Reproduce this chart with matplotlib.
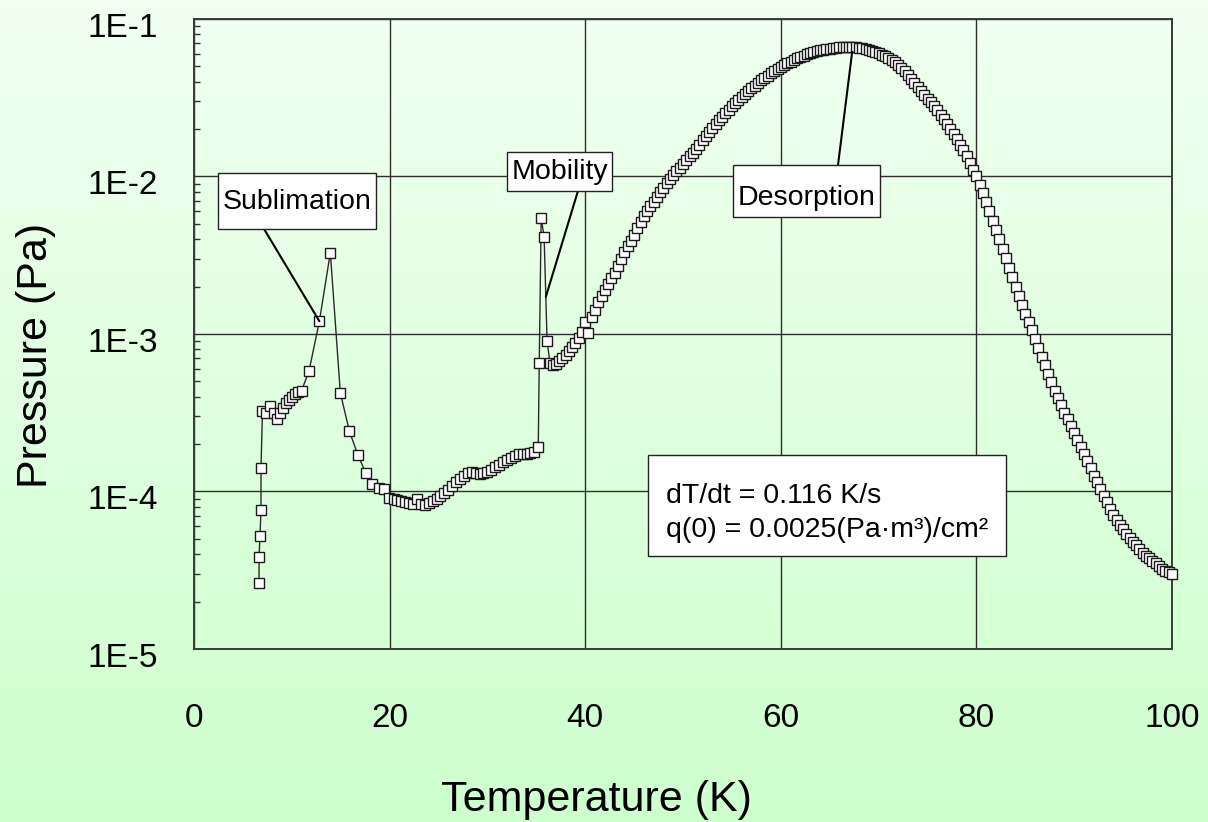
import numpy as np
import matplotlib
matplotlib.use("Agg")
import matplotlib.pyplot as plt
from matplotlib.patches import Rectangle
from matplotlib.transforms import ScaledTranslation
from matplotlib.ticker import FixedLocator, LogLocator, NullFormatter, FuncFormatter

plt.rcParams['font.family'] = ['Liberation Sans', 'DejaVu Sans']

# Thermal desorption spectrum: temperature in K, pressure as log10(Pa)
temp_onset = [6.65, 6.65, 6.75, 6.85, 6.85, 7.0, 7.4, 7.8, 8.2, 8.5, 8.8, 9.1,
              9.4, 9.7, 10.0, 10.3, 10.6, 11.0]
logp_onset = [-4.581, -4.416, -4.28, -4.117, -3.85, -3.49, -3.50, -3.455, -3.50,
              -3.54, -3.50, -3.47, -3.44, -3.42, -3.40, -3.38, -3.37, -3.36]

temp_sublimation = [11.76, 12.82, 13.94, 14.96, 15.88, 16.77, 17.55, 18.23,
                    18.95, 19.43, 19.97]
logp_sublimation = [-3.235, -2.919, -2.484, -3.373, -3.616, -3.770, -3.881,
                    -3.952, -3.976, -3.984, -4.039]

temp_plateau = [20.4, 20.8, 21.2, 21.6, 22.0, 22.4, 22.8, 23.2, 23.6, 24.0,
                24.4, 24.8, 25.2, 25.6, 26.0, 26.4, 26.8, 27.2, 27.6, 28.0,
                28.4, 28.8, 29.2, 29.6, 30.0, 30.4, 30.8, 31.2, 31.6, 32.0,
                32.4, 32.8, 33.2, 33.6, 34.0, 34.4, 34.8, 35.2]
logp_plateau = [-4.046, -4.052, -4.059, -4.067, -4.075, -4.077, -4.05, -4.082,
                -4.086, -4.075, -4.06, -4.047, -4.03, -4.01, -3.99, -3.966,
                -3.942, -3.92, -3.90, -3.88, -3.876, -3.885, -3.89, -3.88,
                -3.875, -3.861, -3.847, -3.832, -3.816, -3.80, -3.786, -3.772,
                -3.763, -3.762, -3.76, -3.755, -3.748, -3.72]

temp_mobility = [35.3, 35.5, 35.8, 36.1, 36.4, 36.7]
logp_mobility = [-3.184, -2.263, -2.384, -3.045, -3.184, -3.197]

temp_desorption = [
    37.0, 37.33, 37.67, 38.0, 38.33, 38.67, 39.0, 39.33, 39.67,
    40.0, 40.33, 40.67, 41.0, 41.33, 41.67, 42.0, 42.33, 42.67,
    43.0, 43.33, 43.67, 44.0, 44.33, 44.67, 45.0, 45.33, 45.67,
    46.0, 46.33, 46.67, 47.0, 47.33, 47.67, 48.0, 48.33, 48.67,
    49.0, 49.33, 49.67, 50.0, 50.33, 50.67, 51.0, 51.33, 51.67,
    52.0, 52.33, 52.67, 53.0, 53.33, 53.67, 54.0, 54.33, 54.67,
    55.0, 55.33, 55.67, 56.0, 56.33, 56.67, 57.0, 57.33, 57.67,
    58.0, 58.33, 58.67, 59.0, 59.33, 59.67, 60.0, 60.33, 60.67,
    61.0, 61.33, 61.67, 62.0, 62.33, 62.67, 63.0, 63.33, 63.67,
    64.0, 64.33, 64.67, 65.0, 65.33, 65.67, 66.0, 66.33, 66.67,
    67.0, 67.33, 67.67, 68.0, 68.33, 68.67, 69.0, 69.33, 69.67,
    70.0, 70.33, 70.67, 71.0, 71.33, 71.67, 72.0, 72.33, 72.67,
    73.0, 73.33, 73.67, 74.0, 74.33, 74.67, 75.0, 75.33, 75.67,
    76.0, 76.33, 76.67, 77.0, 77.33, 77.67, 78.0, 78.33, 78.67,
    79.0, 79.33, 79.67, 80.0, 80.33, 80.67, 81.0, 81.33, 81.67,
    82.0, 82.33, 82.67, 83.0, 83.33, 83.67, 84.0, 84.33, 84.67,
    85.0, 85.33, 85.67, 86.0, 86.33, 86.67, 87.0, 87.33, 87.67,
    88.0, 88.33, 88.67, 89.0, 89.33, 89.67, 90.0, 90.33, 90.67,
    91.0, 91.33, 91.67, 92.0, 92.33, 92.67, 93.0, 93.33, 93.67,
    94.0, 94.33, 94.67, 95.0, 95.33, 95.67, 96.0, 96.33, 96.67,
    97.0, 97.33, 97.67, 98.0, 98.33, 98.67, 99.0, 99.33, 99.67,
    100.0]
logp_desorption = [
    -3.19, -3.172, -3.153, -3.135, -3.11, -3.085, -3.06, -3.023, -2.987,
    -2.925, -2.995, -2.89, -2.85, -2.80, -2.76, -2.72, -2.683, -2.647,
    -2.61, -2.567, -2.523, -2.48, -2.443, -2.407, -2.37, -2.33, -2.29,
    -2.25, -2.22, -2.19, -2.16, -2.13, -2.10, -2.07, -2.043, -2.017,
    -1.99, -1.967, -1.943, -1.92, -1.897, -1.873, -1.85, -1.823, -1.797,
    -1.77, -1.743, -1.717, -1.69, -1.667, -1.643, -1.62, -1.598, -1.577,
    -1.555, -1.535, -1.515, -1.495, -1.477, -1.458, -1.44, -1.423, -1.407,
    -1.39, -1.375, -1.36, -1.345, -1.332, -1.318, -1.305, -1.293, -1.282,
    -1.27, -1.26, -1.25, -1.24, -1.233, -1.225, -1.218, -1.212, -1.206,
    -1.20, -1.196, -1.192, -1.188, -1.185, -1.183, -1.18, -1.179, -1.179,
    -1.178, -1.179, -1.181, -1.182, -1.186, -1.191, -1.195, -1.202, -1.21,
    -1.217, -1.226, -1.236, -1.245, -1.26, -1.275, -1.29, -1.312, -1.333,
    -1.355, -1.38, -1.405, -1.43, -1.455, -1.48, -1.505, -1.53, -1.555,
    -1.58, -1.608, -1.637, -1.665, -1.697, -1.728, -1.76, -1.797, -1.833,
    -1.87, -1.913, -1.957, -2.00, -2.053, -2.107, -2.16, -2.22, -2.28,
    -2.34, -2.40, -2.46, -2.52, -2.58, -2.64, -2.70, -2.757, -2.813,
    -2.87, -2.923, -2.977, -3.03, -3.087, -3.143, -3.20, -3.253, -3.307,
    -3.36, -3.407, -3.453, -3.50, -3.543, -3.587, -3.63, -3.673, -3.717,
    -3.76, -3.807, -3.853, -3.90, -3.943, -3.987, -4.03, -4.07, -4.11,
    -4.15, -4.18, -4.21, -4.24, -4.267, -4.293, -4.32, -4.343, -4.367,
    -4.39, -4.407, -4.423, -4.44, -4.457, -4.473, -4.49, -4.502, -4.513,
    -4.525]

x_ticks = [0, 20, 40, 60, 80, 100]
y_ticks = [1e-5, 1e-4, 1e-3, 1e-2, 1e-1]

temperature = np.concatenate([temp_onset, temp_sublimation, temp_plateau,
                              temp_mobility, temp_desorption])
pressure = 10.0 ** np.concatenate([logp_onset, logp_sublimation, logp_plateau,
                                   logp_mobility, logp_desorption])

fig = plt.figure(figsize=(12.08, 8.22), dpi=100)

# soft vertical green gradient behind everything
bg = fig.add_axes([0, 0, 1, 1], zorder=-10)
frac = np.linspace(0.0, 1.0, 256)[:, None, None]
top_rgb = np.array([242, 255, 242]) / 255.0
bot_rgb = np.array([205, 255, 205]) / 255.0
bg.imshow(top_rgb + (bot_rgb - top_rgb) * frac, aspect='auto',
          extent=[0, 1, 0, 1], origin='upper')
bg.axis('off')

ax = fig.add_axes([0.1606, 0.2105, 0.8096, 0.7664])
ax.set_facecolor('none')
ax.set_yscale('log')
ax.set_xlim(0, 100)
ax.set_ylim(1e-5, 1e-1)

ax.plot(temperature, pressure, '-', color='#2a2a2a', lw=1.0,
        marker='s', ms=7.4, mfc='white', mec='#1a1a1a', mew=1.0,
        clip_on=False, zorder=3)

ax.xaxis.set_major_locator(FixedLocator(x_ticks))
ax.yaxis.set_major_locator(FixedLocator(y_ticks))
ax.yaxis.set_minor_locator(LogLocator(base=10, subs=np.arange(2, 10)))
ax.yaxis.set_minor_formatter(NullFormatter())
ax.yaxis.set_major_formatter(
    FuncFormatter(lambda v, _: "1E{:d}".format(int(round(np.log10(v))))))

ax.grid(True, which='major', color='#2e2e2e', lw=1.0)
ax.set_axisbelow(True)
ax.tick_params(axis='x', length=0, pad=39, labelsize=24)
ax.tick_params(axis='y', which='major', length=0, pad=26, labelsize=24)
ax.tick_params(axis='y', which='minor', direction='in', length=4.3,
               width=1.0, color='#333333', left=True, right=False)
# decade labels sit slightly below their gridlines
shift_down = ScaledTranslation(0, -0.06, fig.dpi_scale_trans)
for lab in ax.get_yticklabels():
    lab.set_transform(lab.get_transform() + shift_down)
for side in ax.spines.values():
    side.set_color('#3a3a3a')
    side.set_linewidth(1.4)

ax.set_xlabel('Temperature (K)', fontsize=31)
ax.xaxis.set_label_coords(0.411, -0.2397)
ax.xaxis.label.set_va('center')
ax.set_ylabel('Pressure (Pa)', fontsize=31)
ax.yaxis.set_label_coords(-0.1615, 0.4667)
ax.yaxis.label.set_va('center')

# labelled boxes with leader lines
note_size = 20.5
boxes = [
    ('Sublimation', (0.0245, 0.6667, 0.1616, 0.0889), (0.1053, 0.6984)),
    ('Mobility', (0.3200, 0.7270, 0.1074, 0.0619), (0.3742, 0.7460)),
    ('Desorption', (0.5511, 0.6857, 0.1503, 0.0826), (0.6262, 0.7048)),
]
for label, (bx, by, bw, bh), (tx, ty) in boxes:
    ax.add_patch(Rectangle((bx, by), bw, bh, transform=ax.transAxes,
                           fc='white', ec='#222222', lw=1.0, zorder=5,
                           clip_on=False))
    ax.text(tx, ty, label, transform=ax.transAxes, fontsize=note_size,
            ha='center', va='baseline', zorder=6)

leaders = [
    ((12.82, 10 ** -2.919), (0.0716, 0.6667)),
    ((35.97, 10 ** -2.765), (0.3926, 0.7270)),
    ((67.3, 10 ** -1.208), (0.6585, 0.7683)),
]
for tip, start in leaders:
    ax.annotate('', xy=tip, xycoords='data', xytext=start,
                textcoords='axes fraction',
                arrowprops=dict(arrowstyle='-', color='black', lw=1.5,
                                shrinkA=0, shrinkB=0), zorder=4)

# experiment parameters
ax.add_patch(Rectangle((0.4642, 0.1476), 0.3661, 0.1603, transform=ax.transAxes,
                       fc='white', ec='#222222', lw=1.0, zorder=5))
ax.text(0.4826, 0.2313, 'dT/dt = 0.116 K/s', transform=ax.transAxes,
        fontsize=note_size, ha='left', va='baseline', zorder=6)
ax.text(0.4826, 0.1783, 'q(0) = 0.0025(Pa·m³)/cm²', transform=ax.transAxes,
        fontsize=note_size, ha='left', va='baseline', zorder=6)

fig.savefig('out.png', dpi=100)
